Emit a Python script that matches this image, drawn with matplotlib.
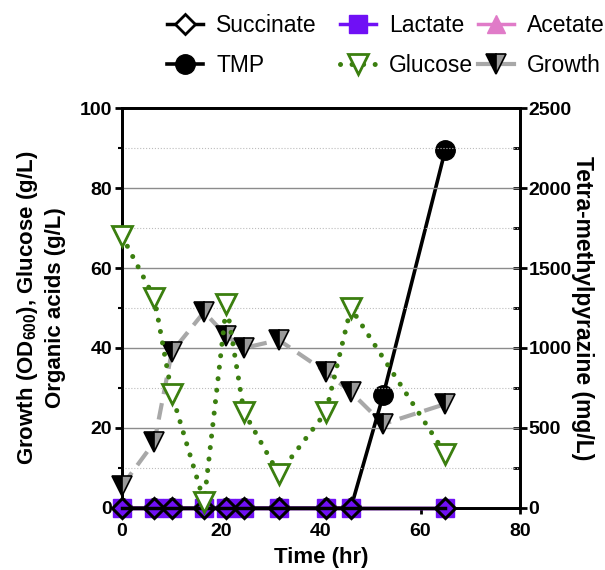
import matplotlib
matplotlib.use("Agg")
import matplotlib.pyplot as plt
from matplotlib.lines import Line2D
from matplotlib.ticker import MultipleLocator

plt.rcParams["font.family"] = ["Liberation Sans", "DejaVu Sans"]
plt.rcParams["mathtext.fontset"] = "custom"
plt.rcParams["mathtext.rm"] = "Liberation Sans:bold"
plt.rcParams["mathtext.it"] = "Liberation Sans:bold"
plt.rcParams["mathtext.bf"] = "Liberation Sans:bold"
plt.rcParams["mathtext.default"] = "rm"

# ── Data ─────────────────────────────────────────────────────────────────────
time_all = [0, 6.5, 10, 16.5, 21, 24.5, 31.5, 41, 46, 52.5, 65]
growth = [5.5, 16.5, 39, 49, 43, 40, 42, 34, 29, 21, 26]
tmp = [0, 0, 0, 0, 0, 0, 0, 0, 0, 705, 2240]

time_sub = [0, 6.5, 10, 16.5, 21, 24.5, 31.5, 41, 46, 65]
glucose = [68, 52.5, 28.5, 1.5, 51, 24, 8.5, 24, 50, 13.5]
succinate = [0, 0, 0, 0, 0, 0, 0, 0, 0, 0]
lactate = [0, 0, 0, 0, 0, 0, 0, 0, 0, 0]
acetate = [0, 0, 0, 0, 0, 0, 0, 0, 0, 0]

PURPLE = "#7010F5"
PINK = "#E07BC8"
GREEN = "#3B7F0F"
GRAY = "#A8A8A8"

fig = plt.figure(figsize=(6.05, 5.70), dpi=100)
ax = fig.add_axes([0.2017, 0.1088, 0.6578, 0.7017])
ax2 = ax.twinx()
ax.set_zorder(2)
ax.patch.set_visible(False)

# right axis: TMP
ax2.plot(time_all, tmp, color="black", lw=2.6, marker="o", ms=14, zorder=3)
ax2.set_ylim(0, 2500)
ax2.yaxis.set_major_locator(MultipleLocator(500))
ax2.yaxis.set_minor_locator(MultipleLocator(250))

# left axis
ax.plot(time_sub, acetate, color=PINK, lw=2.5, marker="^", ms=12, clip_on=False, zorder=3)
ax.plot(time_sub, lactate, color=PURPLE, lw=2.5, marker="s", ms=13, clip_on=False, zorder=4)
ax.plot(time_sub, succinate, color="black", lw=2.5, marker="D", ms=10, mfc="none",
        mec="black", mew=2.2, clip_on=False, zorder=5)
ax.plot(time_all, growth, color=GRAY, lw=3, dashes=(4, 2.2), marker="v", ms=14,
        mfc="black", mfcalt="#9a9a9a", fillstyle="left", mec="black", mew=1.2,
        clip_on=False, zorder=6)
ax.plot(time_sub, glucose, color=GREEN, lw=3.6, linestyle=(0, (0.01, 2.3)),
        dash_capstyle="round", marker="v", ms=14, mfc="white", mec=GREEN, mew=2,
        clip_on=False, zorder=7)

ax.set_xlim(0, 80)
ax.set_ylim(0, 100)
ax.xaxis.set_major_locator(MultipleLocator(20))
ax.yaxis.set_major_locator(MultipleLocator(20))
ax.yaxis.set_minor_locator(MultipleLocator(10))

ax.grid(True, axis="y", which="major", color="#8c8c8c", lw=1)
ax.grid(True, axis="y", which="minor", color="#bdbdbd", lw=0.8, linestyle=":")

for a in (ax, ax2):
    for s in a.spines.values():
        s.set_linewidth(2)

ax.tick_params(axis="y", which="major", direction="out", length=5, width=2, labelsize=14, pad=2)
ax.tick_params(axis="y", which="minor", direction="out", length=3, width=1.5)
ax.tick_params(axis="x", which="major", direction="out", length=4, width=2, labelsize=14, pad=7)
ax2.tick_params(axis="y", which="major", direction="inout", length=10, width=2, labelsize=14, pad=1)
ax2.tick_params(axis="y", which="minor", direction="in", length=5, width=2)
for lab in ax.get_xticklabels() + ax.get_yticklabels() + ax2.get_yticklabels():
    lab.set_fontweight("bold")

ax.set_xlabel("Time (hr)", fontsize=16, fontweight="bold", labelpad=5)
ax.set_ylabel("Growth (OD$_{600}$), Glucose (g/L)\nOrganic acids (g/L)", fontsize=16,
              fontweight="bold", linespacing=1.3, labelpad=10)
ax2.set_ylabel("Tetra-methylpyrazine (mg/L)", fontsize=16.5, fontweight="bold",
               rotation=-90, labelpad=16)

# legend: one legend per column so the columns sit where the reference has them
h_succ = Line2D([], [], color="black", lw=2.5, marker="D", ms=10, mfc="white", mec="black", mew=2)
h_tmp = Line2D([], [], color="black", lw=2.6, marker="o", ms=14)
h_lac = Line2D([], [], color=PURPLE, lw=2.5, marker="s", ms=13)
h_glu = Line2D([], [], color=GREEN, lw=3.6, linestyle=(0, (0.01, 2.3)), dash_capstyle="round",
               marker="v", ms=14, mfc="white", mec=GREEN, mew=2)
h_ace = Line2D([], [], color=PINK, lw=2.5, marker="^", ms=13)
h_gro = Line2D([], [], color=GRAY, lw=3, marker="v", ms=14, mfc="black", mfcalt="#9a9a9a",
               fillstyle="left", mec="black", mew=1.2)
columns = [
    (167, [h_succ, h_tmp], ["Succinate", "TMP"]),
    (340, [h_lac, h_glu], ["Lactate", "Glucose"]),
    (478, [h_ace, h_gro], ["Acetate", "Growth"]),
]
for x_px, handles, labels in columns:
    fig.legend(handles, labels, loc="upper left", bbox_to_anchor=(x_px / 605, 1 - 14 / 570),
               frameon=False, fontsize=16.5, handlelength=1.55, handletextpad=0.6,
               labelspacing=0.75, borderpad=0, borderaxespad=0)

fig.savefig("out.png", dpi=100)
